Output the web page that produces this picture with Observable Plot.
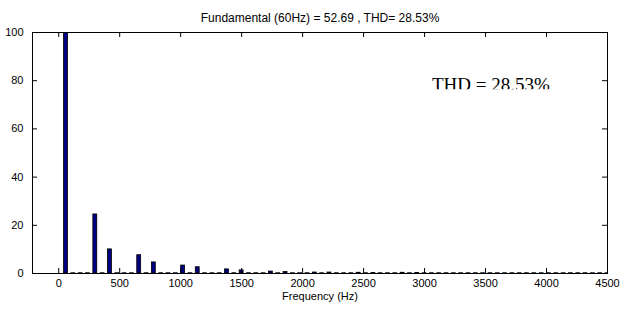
<!DOCTYPE html>
<html>
<head>
<meta charset="utf-8">
<script src="https://cdn.jsdelivr.net/npm/d3@7"></script>
<script src="https://cdn.jsdelivr.net/npm/@observablehq/plot@0.6"></script>
<style>
  html, body { margin: 0; padding: 0; background: white; }
</style>
</head>
<body>
<div id="chart"></div>
<script>
// Chart texts
const titleText = "Fundamental (60Hz) = 52.69 , THD= 28.53%";
const xLabel = "Frequency (Hz)";
const annotationText = "THD = 28.53%";
const annotationFreq = 3060;   // Hz, left of text
const annotationLevel = 75.8;  // % (baseline)

// Fundamental frequency (Hz)
const fundamentalHz = 60;
// Harmonic magnitudes (% of fundamental) for harmonic orders 1..75
const harmonicMag = [
  100, 0.1, 0.1, 0.1, 24.5, 0.1, 10.0, 0.1, 0.1, 0.1,
  7.6, 0.1, 4.6, 0.1, 0.1, 0.1, 3.3, 0.1, 2.6, 0.1,
  0.1, 0.1, 1.7, 0.1, 1.3, 0.1, 0.1, 0.1, 0.8, 0.1,
  0.6, 0.1, 0.1, 0.1, 0.4, 0.1, 0.4, 0.1, 0.1, 0.1,
  0.3, 0.1, 0.2, 0.1, 0.1, 0.1, 0.3, 0.1, 0.2, 0.1,
  0.1, 0.1, 0.1, 0.1, 0.1, 0.1, 0.1, 0.1, 0.1, 0.1,
  0.1, 0.1, 0.1, 0.1, 0.1, 0.1, 0.1, 0.1, 0.1, 0.1,
  0.1, 0.1, 0.1, 0.1, 0.1
];

// Axis ticks
const xTicks = [0, 500, 1000, 1500, 2000, 2500, 3000, 3500, 4000, 4500];
const yTicks = [0, 20, 40, 60, 80, 100];
const xDomain = [-215, 4500];
const yDomain = [0, 100];

const bars = harmonicMag.map((m, i) => ({ f: fundamentalHz * (i + 1), m }));
const halfWidth = 16;
// inner tick lengths expressed in data units (~5px)
const xTickLen = 2.07;  // in % units
const yTickLen = 41;    // in Hz units

const chart = Plot.plot({
  width: 632,
  height: 309,
  marginLeft: 32,
  marginRight: 25,
  marginTop: 32,
  marginBottom: 36,
  x: { domain: xDomain },
  y: { domain: yDomain },
  style: { fontFamily: "'Liberation Sans', Arial, Helvetica, sans-serif", fontSize: "11px", background: "white", color: "black" },
  marks: [
    Plot.rectY(bars, { x1: d => d.f - halfWidth, x2: d => d.f + halfWidth, y: "m", fill: "#000080", stroke: "black", strokeWidth: 0.8, clip: true }),
    // inner ticks on all four sides
    Plot.ruleX(xTicks, { x: d => d, y1: yDomain[0], y2: yDomain[0] + xTickLen, stroke: "black" }),
    Plot.ruleX(xTicks, { x: d => d, y1: yDomain[1], y2: yDomain[1] - xTickLen, stroke: "black" }),
    Plot.ruleY(yTicks, { y: d => d, x1: xDomain[0], x2: xDomain[0] + yTickLen, stroke: "black" }),
    Plot.ruleY(yTicks, { y: d => d, x1: xDomain[1], x2: xDomain[1] - yTickLen, stroke: "black" }),
    Plot.frame({ stroke: "black", strokeWidth: 1 }),
    // tick labels
    Plot.axisX(xTicks, { anchor: "bottom", tickSize: 0, tickPadding: 6, tickFormat: d => String(d), label: null, fill: "black" }),
    Plot.axisY(yTicks, { anchor: "left", tickSize: 0, tickPadding: 9, tickFormat: d => String(d), label: null, fill: "black" }),
    // title and x label
    Plot.text([titleText], { frameAnchor: "top", dy: -19, fontSize: 12, fill: "black" }),
    Plot.text([xLabel], { frameAnchor: "bottom", dy: 26, fontSize: 11, fill: "black" }),
    // annotation
    Plot.text([annotationText], { x: () => annotationFreq, y: () => annotationLevel, textAnchor: "start", lineAnchor: "bottom", fontFamily: "'Liberation Serif', 'Times New Roman', serif", fontSize: 19, fill: "black", className: "thd-note" })
  ]
});

document.getElementById("chart").appendChild(chart);

// Clip the bottom of the annotation text as in the reference
const svg = d3.select(chart);
const yScale = chart.scale("y");
const clipY = yScale.apply(annotationLevel) - 1.5;
svg.append("defs").append("clipPath").attr("id", "noteclip")
  .append("rect").attr("x", 0).attr("y", 0).attr("width", 632).attr("height", clipY);
svg.selectAll("g.thd-note").attr("clip-path", "url(#noteclip)");
</script>
</body>
</html>
